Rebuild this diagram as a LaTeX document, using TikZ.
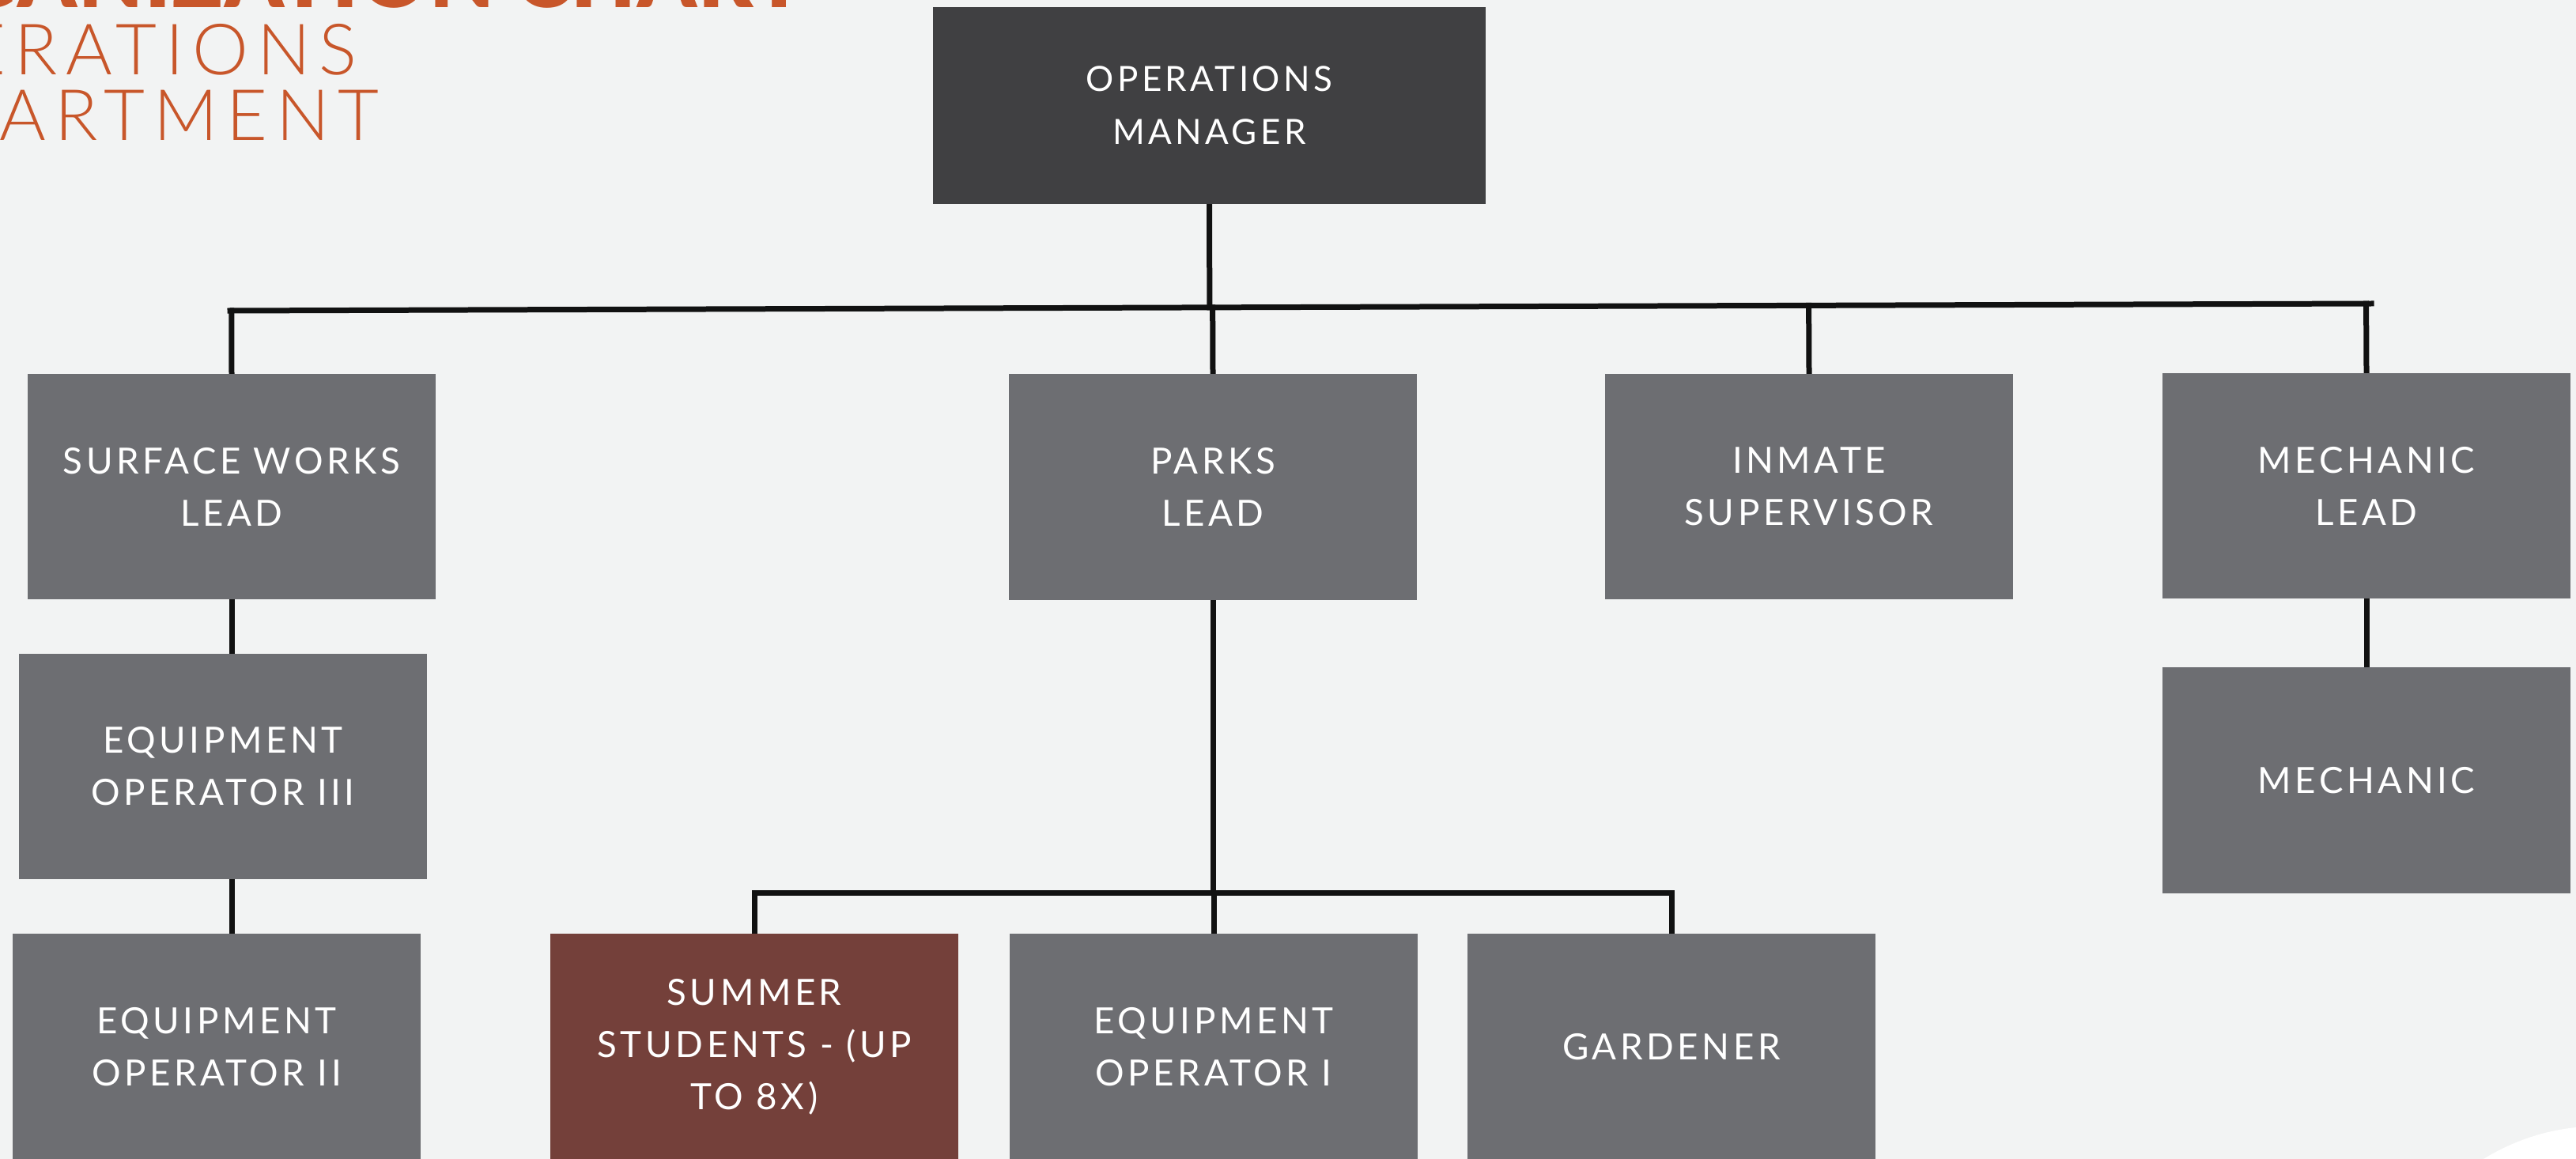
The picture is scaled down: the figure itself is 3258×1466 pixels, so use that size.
\documentclass[tikz,border=0pt]{standalone}
\usepackage{fontspec}
\setmainfont{Lato}
\newfontfamily\boxfont[LetterSpace=10]{Lato}
\newfontfamily\lightfont[LetterSpace=12]{Lato Light}
\newfontfamily\blackfont[LetterSpace=2]{Lato Black}
\usetikzlibrary{calc}
\pgfdeclarelayer{back}
\pgfdeclarelayer{lines}
\pgfsetlayers{back,lines,main}
\definecolor{bgc}{HTML}{F2F3F3}
\definecolor{boxgray}{HTML}{6D6E72}
\definecolor{mgrgray}{HTML}{404042}
\definecolor{summerc}{HTML}{74403A}
\definecolor{titlec}{HTML}{C8562A}
\definecolor{linec}{HTML}{111111}
\tikzset{
  box/.style={rectangle, fill=boxgray, text=white, minimum width=10.32cm, minimum height=5.72cm,
    inner sep=0pt, align=center, font=\boxfont\fontsize{26}{37.6}\selectfont},
  mgrbox/.style={box, fill=mgrgray, minimum width=13.98cm, minimum height=4.98cm,
    font=\boxfont\fontsize{25}{38}\selectfont},
  conn/.style={line width=0.14cm, draw=linec, line cap=rect},
  titletext/.style={anchor=base east, inner sep=0pt, text=titlec}
}
\begin{document}
\begin{tikzpicture}[x=0.02cm, y=-0.02cm]
\useasboundingbox (0,0) rectangle (3258,1466);
\clip (0,0) rectangle (3258,1466);
\begin{pgfonlayer}{back}
\fill[bgc] (0,0) rectangle (3258,1466);
\fill[white] (3141,1466) .. controls (3180,1442) and (3220,1430) .. (3258,1426) -- (3258,1466) -- cycle;
\end{pgfonlayer}

% title
\node[titletext, font=\blackfont\fontsize{60}{60}\selectfont] (title) at (1018,10) {ORGANIZATION CHART};
\node[titletext, font=\lightfont\fontsize{51}{51}\selectfont] (sub1) at (452,95) {OPERATIONS};
\node[titletext, font=\lightfont\fontsize{51}{51}\selectfont] (sub2) at (480,178) {DEPARTMENT};

% boxes
\node[mgrbox] (mgr) at (1529.5,133.5) {OPERATIONS\\MANAGER};
\node[box] (swl) at (293,615.5) {SURFACE WORKS\\LEAD};
\node[box] (parks) at (1534,616) {PARKS\\LEAD};
\node[box] (inmate) at (2288,615.5) {INMATE\\SUPERVISOR};
\node[box] (mlead) at (2993,614.5) {MECHANIC\\LEAD};
\node[box] (mech) at (2993,987) {MECHANIC};
\node[box] (eo3) at (282,969.5) {EQUIPMENT\\OPERATOR III};
\node[box] (eo2) at (274,1324) {EQUIPMENT\\OPERATOR II};
\node[box, fill=summerc] (summer) at (954,1324) {SUMMER\\STUDENTS - (UP\\TO 8X)};
\node[box] (eo1) at (1535,1324) {EQUIPMENT\\OPERATOR I};
\node[box] (gard) at (2114,1324) {GARDENER};

% connectors
\begin{pgfonlayer}{lines}
\coordinate (barL) at (291,393);
\coordinate (barR) at (2999,384);
\draw[conn] (barL) -- (barR);
\draw[conn] (mgr.south) -- ($(barL)!(mgr.south)!(barR)$);
\foreach \n in {swl,parks,inmate,mlead}
  \draw[conn] ($(barL)!(\n.north)!(barR)$) -- (\n.north);
\draw[conn] (swl.south) -- (swl.south |- eo3.north);
\draw[conn] (eo3.north -| swl.south) -- (eo2.north -| swl.south);
\draw[conn] (mlead.south) -- (mech.north);
\coordinate (pbar) at (1534,1129);
\draw[conn] (parks.south) -- (pbar);
\draw[conn] (summer.north |- pbar) -- (gard.north |- pbar);
\foreach \n in {summer,eo1,gard}
  \draw[conn] (\n.north |- pbar) -- (\n.north);
\end{pgfonlayer}
\end{tikzpicture}
\end{document}
